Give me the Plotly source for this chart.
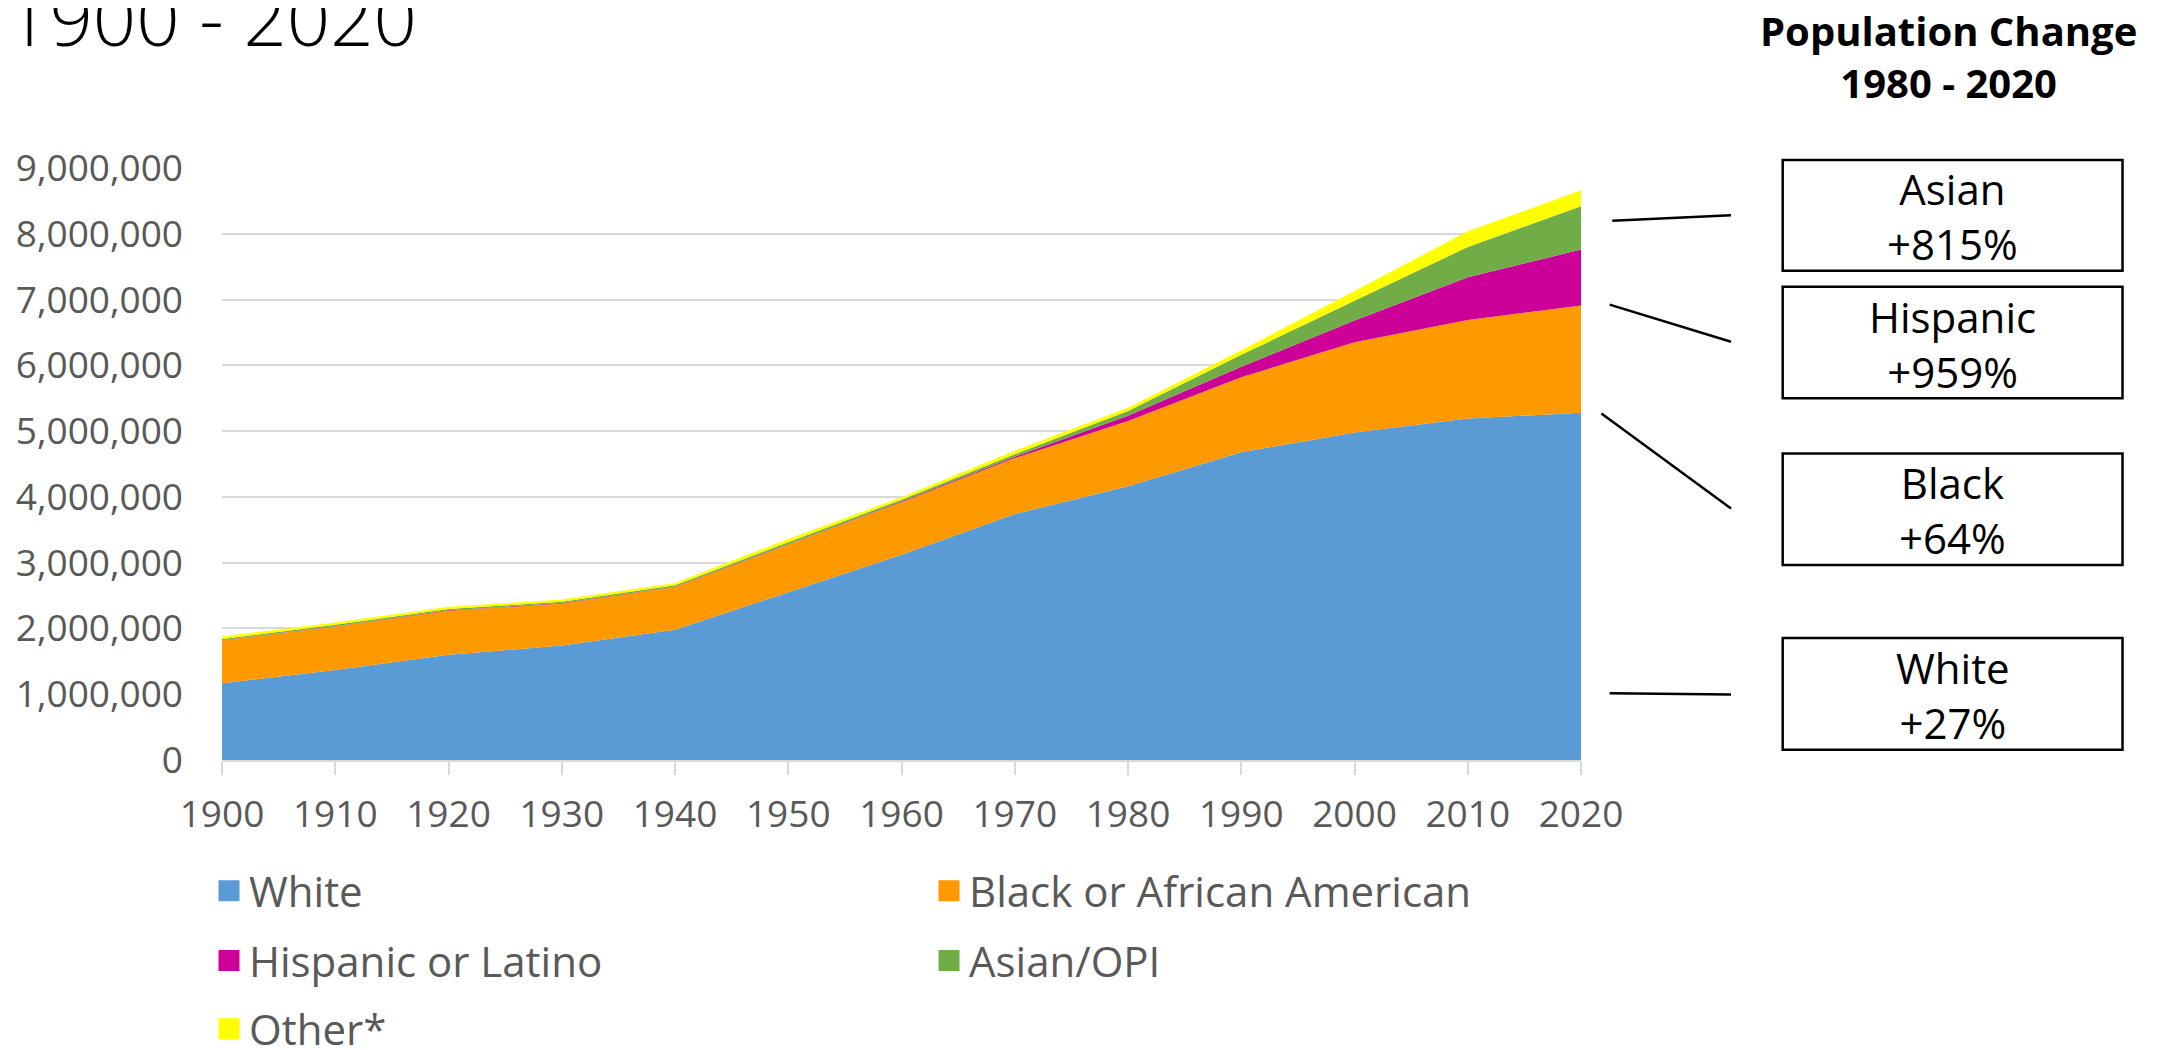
import plotly.graph_objects as go

# ---------------- data ----------------
years = [1900, 1910, 1920, 1930, 1940, 1950, 1960, 1970, 1980, 1990, 2000, 2010, 2020]
white = [1167000, 1370000, 1600000, 1740000, 1980000, 2550000, 3120000, 3740000,
         4160000, 4680000, 4980000, 5190000, 5280000]
black = [649000, 660000, 670000, 640000, 650000, 725000, 800000, 850000,
         994000, 1140000, 1370000, 1500000, 1630000]
hispanic = [5000, 5000, 5000, 5000, 5000, 6000, 8000, 20000,
            80000, 160000, 330000, 650000, 850000]
asian = [20000, 20000, 20000, 20000, 20000, 30000, 30000, 40000,
         72000, 180000, 300000, 460000, 660000]
other = [35000, 35000, 35000, 35000, 35000, 50000, 35000, 50000,
         50000, 70000, 150000, 240000, 240000]

series_names = ["White", "Black or African American", "Hispanic or Latino", "Asian/OPI", "Other*"]
series_colors = ["#5B9BD5", "#FF9900", "#CC0099", "#70AD47", "#FFFF00"]
series_values = [white, black, hispanic, asian, other]
legend_ids = ["legend", "legend", "legend2", "legend2", "legend3"]

box_groups = ["Asian", "Hispanic", "Black", "White"]
box_changes = ["+815%", "+959%", "+64%", "+27%"]

y_ticks = list(range(0, 9000001, 1000000))

# ---------------- geometry (page pixels; page body has an 8px margin) ----------------
OFF = 8
W, H = 2161, 1050
ML, MT = 222 - OFF, 168 - OFF
PW, PH = 1359, 592
MR = W - ML - PW
MB = H - MT - PH


def px(x):
    return (x - OFF - ML) / PW


def py(y):
    return (MT + PH - (y - OFF)) / PH


FONT = "Open Sans"
GREY = "#595959"

fig = go.Figure()

for name, color, vals in zip(series_names, series_colors, series_values):
    fig.add_trace(go.Scatter(
        x=years, y=vals, name=name, stackgroup="one", mode="none",
        fillcolor=color, showlegend=False, hoverinfo="x+y+name"))

for name, color, lg in zip(series_names, series_colors, legend_ids):
    fig.add_trace(go.Scatter(
        x=[None], y=[None], name=name, mode="markers", legend=lg,
        marker=dict(symbol="square", size=16, color=color,
                    line=dict(color=color, width=5)),
        showlegend=True))

legend_common = dict(
    orientation="h", xanchor="left", yanchor="middle", traceorder="normal",
    x=px(209), font=dict(family=FONT, size=42, color=GREY),
    bgcolor="rgba(0,0,0,0)", entrywidth=675, itemclick=False, itemdoubleclick=False,
)

# boxes and connector lines (page pixels)
box_y = [(160, 270.7), (286.7, 398.3), (453.4, 565.0), (638.0, 749.7)]
box_x = (1782.7, 2122.5)
line_pts = [((1612.3, 220.7), (1731, 215.3)),
            ((1609.6, 304.6), (1731, 341.8)),
            ((1601.4, 413.4), (1731, 508.5)),
            ((1609.6, 693.2), (1731, 694.6))]

shapes = []
annotations = []
for (y0, y1), grp, chg, ((lx0, ly0), (lx1, ly1)) in zip(box_y, box_groups, box_changes, line_pts):
    shapes.append(dict(type="rect", xref="paper", yref="paper",
                       x0=px(box_x[0]), x1=px(box_x[1]), y0=py(y1), y1=py(y0),
                       line=dict(color="black", width=2.5), fillcolor="white"))
    shapes.append(dict(type="line", xref="paper", yref="paper",
                       x0=px(lx0), y0=py(ly0), x1=px(lx1), y1=py(ly1),
                       line=dict(color="black", width=2.5)))
    annotations.append(dict(
        xref="paper", yref="paper", x=px((box_x[0] + box_x[1]) / 2),
        y=py((y0 + y1) / 2 + 1), xanchor="center", yanchor="middle",
        text=f"{grp}<br>{chg}", showarrow=False, align="center",
        font=dict(family=FONT, size=42, color="black")))

annotations.append(dict(
    xref="paper", yref="paper", x=px(1949), y=py(1), xanchor="center", yanchor="top",
    text="<b>Population Change</b><br><b>1980 - 2020</b>", showarrow=False, align="center",
    font=dict(family=FONT, size=40, color="black")))

annotations.append(dict(
    xref="paper", yref="paper", x=px(4), y=py(70), xanchor="left", yanchor="bottom",
    text="1900 - 2020", showarrow=False, align="left",
    font=dict(family=FONT, size=76, color="black", weight=300)))

fig.update_layout(
    width=W, height=H, autosize=False,
    margin=dict(l=ML, r=MR, t=MT, b=MB, autoexpand=False),
    paper_bgcolor="white", plot_bgcolor="white",
    font=dict(family=FONT, color=GREY),
    shapes=shapes, annotations=annotations,
    legend=dict(legend_common, y=py(891)),
    legend2=dict(legend_common, y=py(960.6)),
    legend3=dict(legend_common, y=py(1029)),
    xaxis=dict(range=[1900, 2020], tickvals=years, ticktext=[str(y) for y in years],
               showgrid=False, zeroline=False, showline=True, linecolor="#D9D9D9", linewidth=1.5,
               ticks="outside", ticklen=13, tickwidth=1.5, tickcolor="#D9D9D9",
               ticklabelstandoff=8,
               tickfont=dict(family=FONT, size=37, color=GREY), fixedrange=True),
    yaxis=dict(range=[0, 9000000], tickvals=y_ticks, tickformat=",.0f",
               showgrid=True, gridcolor="#D9D9D9", gridwidth=1.5, zeroline=False, showline=False,
               ticks="", ticklabelstandoff=38,
               tickfont=dict(family=FONT, size=37, color=GREY), fixedrange=True),
)

fig.write_html("out.html")
